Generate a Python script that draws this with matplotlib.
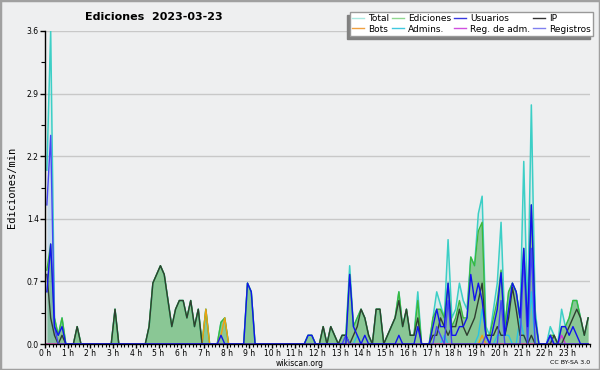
import numpy as np
import matplotlib
matplotlib.use('Agg')
import matplotlib.pyplot as plt
import matplotlib.lines as mlines
from matplotlib.patches import Rectangle
from matplotlib.ticker import FixedLocator, FixedFormatter, MultipleLocator

# 10-minute bins, 6 per hour (one row per hour)
total = [2.0, 3.6, 0.3, 0.1, 0.3, 0.0,
         0, 0, 0.2, 0, 0, 0,
         0, 0, 0, 0, 0, 0,
         0.4, 0, 0, 0, 0, 0,
         0, 0, 0, 0.2, 0.7, 0.8,
         0.9, 0.8, 0.5, 0.2, 0.4, 0.5,
         0.5, 0.3, 0.5, 0.2, 0.4, 0,
         0.4, 0, 0, 0, 0.25, 0.3,
         0, 0, 0, 0, 0, 0.7,
         0.6, 0, 0, 0, 0, 0,
         0, 0, 0, 0, 0, 0,
         0, 0, 0, 0.1, 0.1, 0,
         0, 0.2, 0, 0.2, 0.1, 0,
         0.1, 0.1, 0.9, 0.2, 0.3, 0.4,
         0.3, 0.1, 0, 0.4, 0.4, 0,
         0.1, 0.2, 0.3, 0.6, 0.2, 0.4,
         0.1, 0.1, 0.6, 0, 0, 0,
         0.3, 0.6, 0.45, 0.3, 1.2, 0.3,
         0.4, 0.7, 0.5, 0.4, 1.0, 0.9,
         1.5, 1.7, 0.2, 0.1, 0.4, 0.7,
         1.4, 0.2, 0.6, 0.7, 0.6, 0.3,
         2.1, 0.3, 2.75, 0.4, 0, 0,
         0, 0.2, 0.1, 0, 0.4, 0.2,
         0.3, 0.5, 0.5, 0.3, 0.1, 0.3]

ediciones = [0.85, 1.15, 0.3, 0.1, 0.3, 0,
             0, 0, 0.2, 0, 0, 0,
             0, 0, 0, 0, 0, 0,
             0.4, 0, 0, 0, 0, 0,
             0, 0, 0, 0.2, 0.7, 0.8,
             0.9, 0.8, 0.5, 0.2, 0.4, 0.5,
             0.5, 0.3, 0.5, 0.2, 0.4, 0,
             0.4, 0, 0, 0, 0.25, 0.3,
             0, 0, 0, 0, 0, 0.7,
             0.6, 0, 0, 0, 0, 0,
             0, 0, 0, 0, 0, 0,
             0, 0, 0, 0.1, 0.1, 0,
             0, 0.2, 0, 0.2, 0.1, 0,
             0.1, 0.1, 0.8, 0.2, 0.3, 0.4,
             0.3, 0.1, 0, 0.4, 0.4, 0,
             0.1, 0.2, 0.3, 0.6, 0.2, 0.4,
             0.1, 0.1, 0.5, 0, 0, 0,
             0.3, 0.4, 0.4, 0.3, 0.7, 0.2,
             0.3, 0.5, 0.3, 0.3, 1.0, 0.9,
             1.3, 1.4, 0.1, 0.1, 0.3, 0.5,
             0.85, 0.2, 0.6, 0.7, 0.6, 0.3,
             1.1, 0.2, 1.6, 0.3, 0, 0,
             0, 0.1, 0.1, 0, 0.2, 0.2,
             0.3, 0.5, 0.5, 0.3, 0.1, 0.3]

usuarios = [0.6, 1.15, 0.2, 0.1, 0.2, 0,
            0, 0, 0, 0, 0, 0,
            0, 0, 0, 0, 0, 0,
            0, 0, 0, 0, 0, 0,
            0, 0, 0, 0, 0, 0,
            0, 0, 0, 0, 0, 0,
            0, 0, 0, 0, 0, 0,
            0, 0, 0, 0, 0.1, 0,
            0, 0, 0, 0, 0, 0.7,
            0.6, 0, 0, 0, 0, 0,
            0, 0, 0, 0, 0, 0,
            0, 0, 0, 0.1, 0.1, 0,
            0, 0, 0, 0, 0, 0,
            0, 0, 0.8, 0.2, 0.1, 0,
            0.1, 0, 0, 0, 0, 0,
            0, 0, 0, 0.1, 0, 0,
            0, 0, 0.2, 0, 0, 0,
            0.2, 0.4, 0.2, 0.2, 0.7, 0.1,
            0.1, 0.2, 0.2, 0.3, 0.8, 0.5,
            0.7, 0.5, 0.1, 0, 0.2, 0.4,
            0.82, 0.1, 0.4, 0.7, 0.6, 0.3,
            1.1, 0.2, 1.6, 0.3, 0, 0,
            0, 0.1, 0, 0, 0.2, 0.2,
            0.1, 0.2, 0.1, 0, 0, 0]

ip = [0.8, 0.3, 0.1, 0, 0.1, 0,
      0, 0, 0.2, 0, 0, 0,
      0, 0, 0, 0, 0, 0,
      0.4, 0, 0, 0, 0, 0,
      0, 0, 0, 0.2, 0.7, 0.8,
      0.9, 0.8, 0.5, 0.2, 0.4, 0.5,
      0.5, 0.3, 0.5, 0.2, 0.4, 0,
      0, 0, 0, 0, 0, 0,
      0, 0, 0, 0, 0, 0,
      0, 0, 0, 0, 0, 0,
      0, 0, 0, 0, 0, 0,
      0, 0, 0, 0, 0, 0,
      0, 0.2, 0, 0.2, 0.1, 0,
      0.1, 0.1, 0, 0.1, 0.2, 0.4,
      0.3, 0.1, 0, 0.4, 0.4, 0,
      0.1, 0.2, 0.3, 0.5, 0.2, 0.4,
      0.1, 0.1, 0.3, 0, 0, 0,
      0.1, 0.1, 0.3, 0.2, 0.1, 0.2,
      0.2, 0.4, 0.2, 0.1, 0.2, 0.3,
      0.5, 0.7, 0.1, 0.1, 0.1, 0.2,
      0.1, 0.1, 0.3, 0.65, 0.4, 0.1,
      0.1, 0, 0.1, 0, 0, 0,
      0, 0, 0.1, 0, 0, 0.1,
      0.2, 0.3, 0.4, 0.3, 0.1, 0.3]

registros = [0] * 144
for k, v in {0: 1.6, 1: 2.4, 2: 0.2, 79: 0.1, 103: 0.2, 104: 0.1, 106: 0.5,
             116: 0.1, 120: 0.5, 126: 1.0, 128: 1.1, 133: 0.1}.items():
    registros[k] = v

bots = [0] * 144
for k, v in {42: 0.4, 46: 0.1, 47: 0.3, 115: 0.1}.items():
    bots[k] = v

admins = [0] * 144
for k, v in {82: 0.1, 105: 0.1, 114: 0.1, 115: 0.4, 116: 0.1, 119: 0.1,
             120: 0.1, 121: 0.1, 122: 0.1, 125: 0.3, 126: 0.1, 128: 0.6}.items():
    admins[k] = v

reg_adm = [0] * 144
reg_adm[136] = 0.1

hour_labels = ['%d h' % h for h in range(24)]
ytick_vals = [0, 0.72, 1.44, 2.16, 2.88, 3.6]
ytick_labels = ['0.0', '0.7', '1.4', '2.2', '2.9', '3.6']

x = (np.arange(144) + 0.5) / 6.0

bg = '#eeeff0'
fig = plt.figure(figsize=(6, 3.7), dpi=100, facecolor=bg)
ax = fig.add_axes([45/600, 26/370, 545/600, 313/370])
ax.set_facecolor(bg)

# areas
ax.fill_between(x, total, color='#40d0c8', alpha=0.13, lw=0)
ax.fill_between(x, ediciones, color='#2e9e2e', alpha=0.45, lw=0)
ax.fill_between(x, registros, color='#5070ff', alpha=0.12, lw=0)

# lines
ax.plot(x, total, color='#3ccfc6', lw=1.1)
ax.plot(x, ediciones, color='#3cb83c', lw=1.0)
ax.plot(x, admins, color='#28c4e4', lw=1.0)
ax.plot(x, bots, color='#f0a010', lw=1.0)
ax.plot(x, reg_adm, color='#d030e0', lw=1.0)
ax.plot(x, ip, color='#2f3f30', lw=1.0)
ax.plot(x, registros, color='#4646f4', lw=1.0)
ax.plot(x, usuarios, color='#1212ee', lw=1.0)

ax.set_xlim(0, 24)
ax.set_ylim(0, 3.6)
ax.xaxis.set_major_locator(FixedLocator(range(24)))
ax.xaxis.set_major_formatter(FixedFormatter(hour_labels))
ax.xaxis.set_minor_locator(MultipleLocator(1/6))
ax.yaxis.set_major_locator(FixedLocator(ytick_vals))
ax.yaxis.set_major_formatter(FixedFormatter(ytick_labels))
ax.yaxis.set_minor_locator(FixedLocator([0.36, 1.08, 1.8, 2.52, 3.24]))
ax.tick_params(axis='x', which='major', length=3, width=1, pad=0.5, labelsize=5.5)
ax.tick_params(axis='x', which='minor', length=2.5, width=0.8)
ax.tick_params(axis='y', which='major', length=3.5, width=1, pad=1, labelsize=5.5)
ax.tick_params(axis='y', which='minor', length=3, width=0.8)
ax.grid(axis='y', which='major', color='#c8c8c8', lw=1)
ax.set_axisbelow(True)
for s in ['top', 'right']:
    ax.spines[s].set_visible(False)
ax.spines['left'].set_linewidth(1)
ax.spines['bottom'].set_linewidth(1)

ax.set_ylabel('Ediciones/min', family='DejaVu Sans Mono', fontsize=7.5, labelpad=7)
fig.text(154/600, 1 - 17/370, 'Ediciones  2023-03-23', ha='center', va='center',
         fontsize=8, fontweight='bold')
fig.text(300/600, 1 - 363/370, 'wikiscan.org', ha='center', va='center', fontsize=5.5)
fig.text(590/600, 1 - 363/370, 'CC BY-SA 3.0', ha='right', va='center', fontsize=4.5)

# legend
names = ['Total', 'Bots', 'Ediciones', 'Admins.', 'Usuarios', 'Reg. de adm.', 'IP', 'Registros']
cols = ['#a8e8e0', '#f0a040', '#90d890', '#40c8e0', '#3838e0', '#d050e0', '#333333', '#8080f0']
handles = [mlines.Line2D([], [], color=c, lw=1, label=n) for n, c in zip(names, cols)]
leg = fig.legend(handles=handles, ncol=4, loc='upper right',
                 bbox_to_anchor=(593/600, 1 - 12/370), bbox_transform=fig.transFigure,
                 fontsize=6.5, frameon=True, fancybox=False, edgecolor='#999999',
                 framealpha=1, borderpad=0.25, handlelength=1.3, handletextpad=0.45,
                 columnspacing=0.35, labelspacing=0.15, borderaxespad=0)
leg.get_frame().set_linewidth(1)
leg.set_zorder(5)
fig.canvas.draw()
bb = leg.get_window_extent()
fig.patches.append(Rectangle(((bb.x0 - 3) / 600, (bb.y0 - 3) / 370), bb.width / 600, bb.height / 370,
                             transform=fig.transFigure, color='#808080', zorder=4))
fig.patches.append(Rectangle((0, 0), 1, 1, transform=fig.transFigure, fill=False,
                             edgecolor='#a0a0a0', lw=2.5, zorder=10))

fig.savefig('out.png', dpi=100, facecolor=bg)
